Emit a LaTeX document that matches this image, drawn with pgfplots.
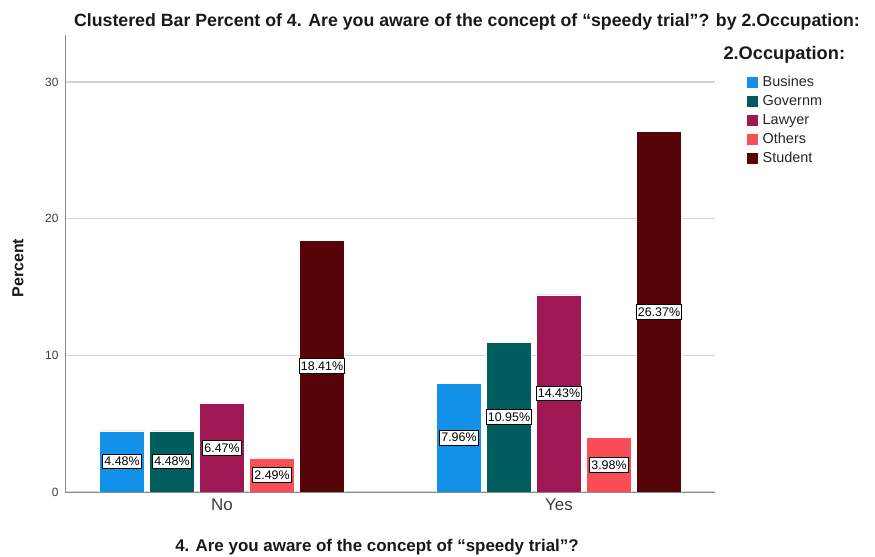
\documentclass[border=0pt]{standalone}
\usepackage{pgfplots}
\pgfplotsset{compat=1.18}
\usepackage{fontspec}
\setmainfont{Liberation Sans}

\definecolor{cBus}{HTML}{1192E8}
\definecolor{cGov}{HTML}{005D5D}
\definecolor{cLaw}{HTML}{9F1853}
\definecolor{cOth}{HTML}{FA4D56}
\definecolor{cStu}{HTML}{570408}
\definecolor{gridgray}{HTML}{D4D4D4}
\definecolor{axisgray}{HTML}{8C8C8C}
\definecolor{ticktext}{HTML}{3C3C3C}

% x: 0 = No, 1 = Yes; v = percent
\pgfplotstableread{
x v
0 4.48
1 7.96
}\busines
\pgfplotstableread{
x v
0 4.48
1 10.95
}\governm
\pgfplotstableread{
x v
0 6.47
1 14.43
}\lawyer
\pgfplotstableread{
x v
0 2.49
1 3.98
}\others
\pgfplotstableread{
x v
0 18.41
1 26.37
}\student

\begin{document}
\begin{tikzpicture}
\useasboundingbox (0,0) rectangle (875bp,557bp);
\begin{axis}[
  at={(65bp,65bp)}, anchor=south west,
  scale only axis, width=650bp, height=457bp,
  xmin=-0.466, xmax=1.463, ymin=0, ymax=33.44,
  axis x line*=bottom, axis y line*=left,
  axis line style={axisgray, line width=0.8bp},
  xtick={0,1}, xticklabels={No,Yes},
  ytick={0,10,20,30},
  major tick length=0pt,
  tick label style={text=ticktext},
  xticklabel style={font=\fontsize{17}{19}\selectfont, yshift=-3bp},
  yticklabel style={font=\fontsize{12}{14}\selectfont, xshift=-3bp},
  /pgf/number format/assume math mode=true,
  ymajorgrids, grid style={gridgray, line width=1.2bp},
  ybar, bar width=45bp,
  every axis plot/.append style={draw=white, line width=0.5bp},
  visualization depends on=rawy \as \rawy,
  nodes near coords={\pgfmathprintnumber[fixed,fixed zerofill,precision=2]{\pgfplotspointmeta}\%},
  point meta=rawy,
  every node near coord/.append style={
    anchor=center, yshift={-6.859*\rawy pt},
    fill=white, draw=black, line width=0.8bp, text=black,
    inner xsep=1.5bp, inner ysep=3bp, font=\fontsize{12.5}{13}\selectfont},
  legend style={at={(1.0477,0.912)}, anchor=north west, draw=none,
    fill=none, font=\fontsize{14.5}{15}\selectfont,
    row sep=5.2bp, inner sep=0bp,
    nodes={inner sep=1bp, text=black!85},
    /tikz/every odd column/.append style={column sep=3bp}},
  legend cell align=left,
  legend image code/.code={\fill[#1] (0bp,-6bp) rectangle (12bp,6bp);},
]
\addplot[fill=cBus, bar shift=-100bp] table[x=x,y=v]{\busines};
\addplot[fill=cGov, bar shift=-50bp] table[x=x,y=v]{\governm};
\addplot[fill=cLaw, bar shift=0bp] table[x=x,y=v]{\lawyer};
\addplot[fill=cOth, bar shift=50bp] table[x=x,y=v]{\others};
\addplot[fill=cStu, bar shift=100bp] table[x=x,y=v]{\student};
\legend{Busines,Governm,Lawyer,Others,Student}
\end{axis}
% titles and axis names
\node[font=\bfseries\fontsize{17.8}{20}\selectfont, text=black!90] at (467bp,535bp)
  {Clustered Bar Percent of 4. Are you aware of the concept of “speedy trial”? by 2.Occupation:};
\node[font=\bfseries\fontsize{17}{20}\selectfont, text=black!90] at (377bp,10bp)
  {4. Are you aware of the concept of “speedy trial”?};
\node[font=\bfseries\fontsize{16}{18}\selectfont, text=black!90, rotate=90] at (18bp,289bp)
  {Percent};
\node[font=\bfseries\fontsize{18.3}{20}\selectfont, text=black!90, anchor=west] at (720bp,502bp)
  {2.Occupation:};
\end{tikzpicture}
\end{document}
